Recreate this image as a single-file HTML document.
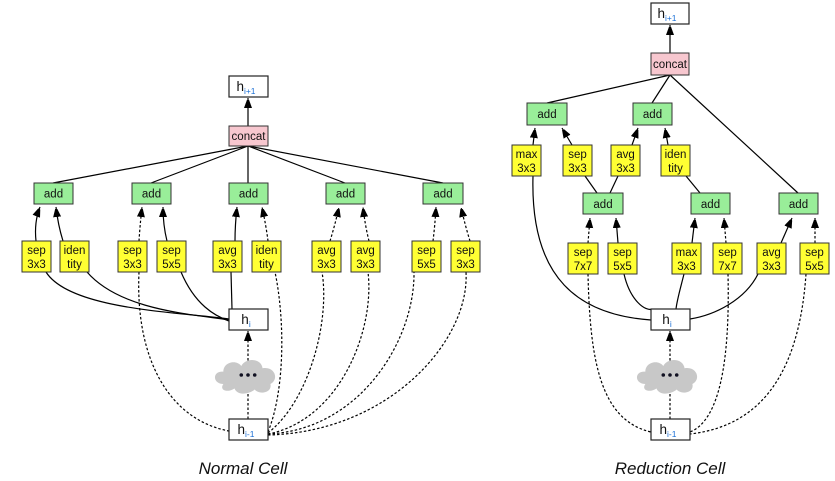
<!DOCTYPE html>
<html><head><meta charset="utf-8"><style>
body{margin:0;background:#fff}
svg{display:block}
text{font-family:"Liberation Sans",sans-serif;font-size:11.5px;fill:#111;text-anchor:middle}
.h{font-size:13.5px}
.s{fill:#1a6fd6;font-size:8.5px}
.y{fill:#ffff33;stroke:#333;stroke-width:1}
.g{fill:#99ee99;stroke:#333;stroke-width:1}
.w{fill:#fff;stroke:#222;stroke-width:1.2}
.p{fill:#f7c7cf;stroke:#333;stroke-width:1}
path,line{fill:none;stroke:#000;stroke-width:1.2}
.d{stroke-dasharray:2.5,2}
.a{marker-end:url(#ar)}
</style></head><body>
<svg width="835" height="481" viewBox="0 0 835 481">
<defs><marker id="ar" markerWidth="8" markerHeight="12" refX="10" refY="4" orient="auto" markerUnits="userSpaceOnUse"><path d="M0,0 L11,4 L0,8 Z" style="fill:#000;stroke:none"/></marker>
<g id="cloud"><g transform="scale(1.12)"><path d="M-22,8 C-32,8 -32,-4 -22,-3 C-22,-12 -10,-14 -6,-8 C-2,-16 12,-15 13,-6 C24,-8 28,4 20,8 C22,16 10,18 6,13 C0,18 -10,18 -12,12 C-18,16 -26,14 -22,8 Z" style="fill:#c8c8c8;stroke:none"/><circle cx="-6" cy="0" r="1.6" fill="#112"/><circle cx="0" cy="0" r="1.6" fill="#112"/><circle cx="6" cy="0" r="1.6" fill="#112"/></g></g></defs>

<!-- LEFT CELL -->
<line x1="248" y1="126" x2="248" y2="98" class="a"/>
<line x1="248" y1="146" x2="53" y2="183"/><line x1="248" y1="146" x2="151" y2="183"/><line x1="248" y1="146" x2="248" y2="183"/><line x1="248" y1="146" x2="345" y2="183"/><line x1="248" y1="146" x2="443" y2="183"/>
<path class="a" d="M36,241 Q34,222 40,207"/><path class="a" d="M63,241 Q58,225 56,207"/>
<path class="a d" d="M139,241 Q140,225 142,207"/><path class="a" d="M167,241 Q163,225 163,207"/>
<path class="a" d="M235,241 Q235,225 237,207"/><path class="a d" d="M268,241 Q266,225 262,207"/>
<path class="a d" d="M330,241 Q335,225 339,207"/><path class="a d" d="M369,241 Q365,225 363,207"/>
<path class="a d" d="M433,241 Q435,225 436,207"/><path class="a d" d="M470,241 Q465,225 461,207"/>
<path d="M46,272 C70,310 180,312 229,319"/><path d="M87,272 C120,310 190,314 229,320"/><path d="M181,272 C195,305 215,316 229,321"/><path d="M231,272 L232,309"/>
<path class="d" d="M139,272 C135,360 170,420 229,431"/>
<path class="d" d="M268,432 C285,390 285,320 275,272"/>
<path class="d" d="M268,433 C310,400 330,320 322,272"/>
<path class="d" d="M268,434 C340,420 375,330 368,272"/>
<path class="d" d="M268,434 C360,430 415,340 414,272"/>
<path class="d" d="M268,435 C390,432 470,340 466,272"/>
<line class="d a" x1="248" y1="419" x2="248" y2="331"/>
<use href="#cloud" x="248" y="375"/>
<rect class="w" x="229" y="76" width="39" height="21"/><text class="h" x="246" y="91">h<tspan class="s" dy="3">i+1</tspan></text>
<rect class="p" x="229" y="126" width="39" height="20"/><text x="248.5" y="140">concat</text>
<g><rect class="g" x="34" y="183" width="39" height="21"/><text x="53.5" y="197.5">add</text>
<rect class="g" x="132" y="183" width="39" height="21"/><text x="151.5" y="197.5">add</text>
<rect class="g" x="229" y="183" width="39" height="21"/><text x="248.5" y="197.5">add</text>
<rect class="g" x="326" y="183" width="39" height="21"/><text x="345.5" y="197.5">add</text>
<rect class="g" x="423" y="183" width="40" height="21"/><text x="443" y="197.5">add</text></g>
<g>
<rect class="y" x="22" y="241" width="29" height="31"/><text x="36.5" y="254">sep</text><text x="36.5" y="268">3x3</text>
<rect class="y" x="60" y="241" width="29" height="31"/><text x="74.5" y="254">iden</text><text x="74.5" y="268">tity</text>
<rect class="y" x="118" y="241" width="29" height="31"/><text x="132.5" y="254">sep</text><text x="132.5" y="268">3x3</text>
<rect class="y" x="157" y="241" width="29" height="31"/><text x="171.5" y="254">sep</text><text x="171.5" y="268">5x5</text>
<rect class="y" x="213" y="241" width="29" height="31"/><text x="227.5" y="254">avg</text><text x="227.5" y="268">3x3</text>
<rect class="y" x="252" y="241" width="29" height="31"/><text x="266.5" y="254">iden</text><text x="266.5" y="268">tity</text>
<rect class="y" x="312" y="241" width="29" height="31"/><text x="326.5" y="254">avg</text><text x="326.5" y="268">3x3</text>
<rect class="y" x="351" y="241" width="29" height="31"/><text x="365.5" y="254">avg</text><text x="365.5" y="268">3x3</text>
<rect class="y" x="412" y="241" width="29" height="31"/><text x="426.5" y="254">sep</text><text x="426.5" y="268">5x5</text>
<rect class="y" x="451" y="241" width="29" height="31"/><text x="465.5" y="254">sep</text><text x="465.5" y="268">3x3</text>
</g>
<rect class="w" x="229" y="309" width="39" height="21"/><text class="h" x="246" y="324">h<tspan class="s" dy="3">i</tspan></text>
<rect class="w" x="229" y="419" width="39" height="21"/><text class="h" x="246" y="434">h<tspan class="s" dy="3">i-1</tspan></text>
<text x="243" y="474" style="font-size:17px;font-style:italic">Normal Cell</text>

<!-- RIGHT CELL -->
<line x1="670" y1="53" x2="670" y2="25" class="a"/>
<line x1="670" y1="75" x2="547" y2="103"/><line x1="670" y1="75" x2="652" y2="103"/><line x1="670" y1="75" x2="798" y2="193"/>
<path class="a" d="M533,145 L535,128"/><path class="a" d="M572,145 L562,128"/>
<path class="a" d="M632,145 L638,128"/><path class="a" d="M668,145 L665,128"/>
<line x1="597" y1="193" x2="585" y2="176"/><line x1="610" y1="193" x2="618" y2="176"/>
<line x1="700" y1="193" x2="686" y2="176"/>
<path class="a d" d="M588,243 L590,218"/><path class="a" d="M618,243 L616,218"/>
<path class="a" d="M692,243 L695,218"/><path class="a d" d="M726,243 L724,218"/>
<path class="a" d="M781,243 L792,218"/><path class="a d" d="M815,243 L815,218"/>
<path d="M533,176 C530,280 580,315 651,320"/><path d="M624,274 C630,300 645,312 653,309"/><path d="M684,274 C680,290 677,300 676,309"/><path d="M758,274 C745,300 715,315 690,319"/>
<path class="d" d="M588,274 C590,360 600,420 651,432"/>
<path class="d" d="M728,274 C730,360 720,420 690,432"/>
<path class="d" d="M806,274 C800,360 770,425 690,434"/>
<line class="d a" x1="670" y1="419" x2="670" y2="331"/>
<use href="#cloud" x="670" y="375"/>
<rect class="w" x="651" y="3" width="38" height="21"/><text class="h" x="667" y="18">h<tspan class="s" dy="3">i+1</tspan></text>
<rect class="p" x="651" y="53" width="38" height="22"/><text x="670" y="68">concat</text>
<rect class="g" x="527" y="103" width="40" height="22"/><text x="547" y="118">add</text>
<rect class="g" x="633" y="103" width="39" height="22"/><text x="652.5" y="118">add</text>
<rect class="g" x="583" y="193" width="40" height="21"/><text x="603" y="208">add</text>
<rect class="g" x="691" y="193" width="39" height="21"/><text x="710.5" y="208">add</text>
<rect class="g" x="779" y="193" width="39" height="21"/><text x="798.5" y="208">add</text>
<rect class="y" x="512" y="145" width="29" height="31"/><text x="526.5" y="158">max</text><text x="526.5" y="172">3x3</text>
<rect class="y" x="563" y="145" width="29" height="31"/><text x="577.5" y="158">sep</text><text x="577.5" y="172">3x3</text>
<rect class="y" x="611" y="145" width="29" height="31"/><text x="625.5" y="158">avg</text><text x="625.5" y="172">3x3</text>
<rect class="y" x="661" y="145" width="29" height="31"/><text x="675.5" y="158">iden</text><text x="675.5" y="172">tity</text>
<rect class="y" x="568" y="243" width="30" height="31"/><text x="583" y="256">sep</text><text x="583" y="270">7x7</text>
<rect class="y" x="608" y="243" width="29" height="31"/><text x="622.5" y="256">sep</text><text x="622.5" y="270">5x5</text>
<rect class="y" x="672" y="243" width="29" height="31"/><text x="686.5" y="256">max</text><text x="686.5" y="270">3x3</text>
<rect class="y" x="713" y="243" width="29" height="31"/><text x="727.5" y="256">sep</text><text x="727.5" y="270">7x7</text>
<rect class="y" x="757" y="243" width="29" height="31"/><text x="771.5" y="256">avg</text><text x="771.5" y="270">3x3</text>
<rect class="y" x="800" y="243" width="29" height="31"/><text x="814.5" y="256">sep</text><text x="814.5" y="270">5x5</text>
<rect class="w" x="651" y="309" width="39" height="21"/><text class="h" x="667" y="324">h<tspan class="s" dy="3">i</tspan></text>
<rect class="w" x="651" y="419" width="39" height="21"/><text class="h" x="668" y="434">h<tspan class="s" dy="3">i-1</tspan></text>
<text x="670" y="474" style="font-size:17px;font-style:italic">Reduction Cell</text>
</svg>
</body></html>
